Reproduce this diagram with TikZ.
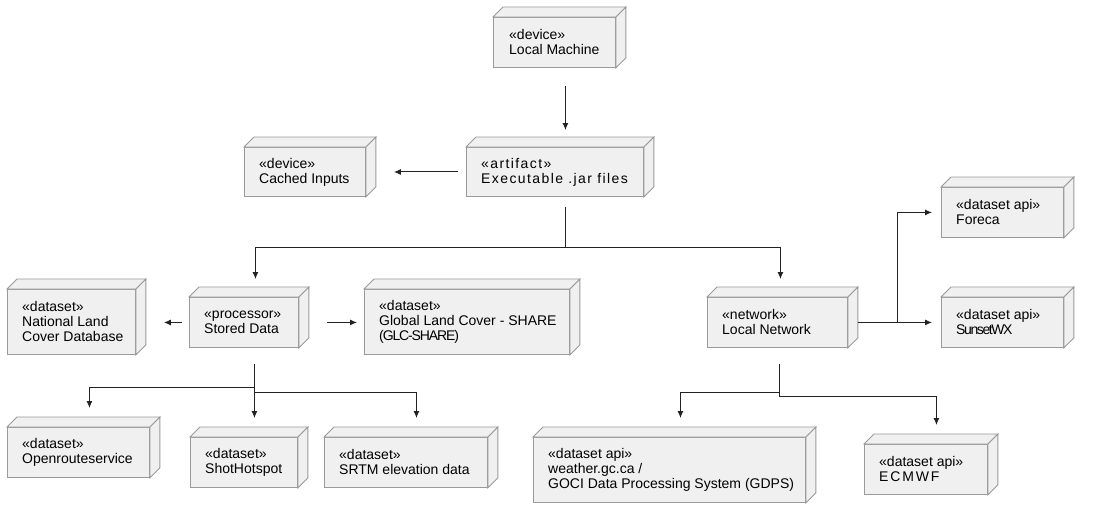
\documentclass[tikz,border=0pt]{standalone}
\usepackage{fontspec}
\setmainfont{Liberation Sans}
\usetikzlibrary{arrows.meta}
\definecolor{facefill}{HTML}{F0F0F0}
\definecolor{facedraw}{HTML}{9A9A9A}
\definecolor{linecol}{HTML}{222222}
\newcommand{\cubefaces}[1]{%
  \filldraw[face] (#1.north west) -- ++(10,-10) -- ([shift={(10,-10)}]#1.north east) -- (#1.north east) -- cycle;
  \filldraw[face] (#1.north east) -- ++(10,-10) -- ([shift={(10,-10)}]#1.south east) -- (#1.south east) -- cycle;}
\newcommand{\lsp}[2]{{\addfontfeatures{LetterSpace=#1}#2}}
\begin{document}
\begin{tikzpicture}[x=1pt,y=-1pt,
  face/.style={fill=facefill,draw=facedraw,line width=0.9pt,line join=miter},
  cube/.style={face,rectangle,anchor=north west,inner sep=0pt},
  txt/.style={anchor=west,align=left,inner sep=0pt,font=\fontsize{14}{15}\selectfont},
  line/.style={draw=linecol,line width=1pt},
  arr/.style={line,-{Latex[length=7pt,width=6pt]}}]
\fill[white] (0,0) rectangle (1093,520);
\useasboundingbox (0,0) rectangle (1093,520);
% boxes
\node[cube,minimum width=122pt,minimum height=50pt] (lm) at (493,17) {};
\node[cube,minimum width=177pt,minimum height=49pt] (ex) at (466,147) {};
\node[cube,minimum width=121pt,minimum height=49pt] (ci) at (244,147) {};
\node[cube,minimum width=122pt,minimum height=50pt] (fo) at (941,187) {};
\node[cube,minimum width=122pt,minimum height=50pt] (su) at (941,297) {};
\node[cube,minimum width=140pt,minimum height=50pt] (ln) at (707,297) {};
\node[cube,minimum width=128pt,minimum height=65pt] (nl) at (7,289) {};
\node[cube,minimum width=109pt,minimum height=50pt] (sd) at (189,297) {};
\node[cube,minimum width=205pt,minimum height=65pt] (gl) at (364,289) {};
\node[cube,minimum width=142pt,minimum height=50pt] (or) at (7,427) {};
\node[cube,minimum width=107pt,minimum height=50pt] (sh) at (190,437) {};
\node[cube,minimum width=163pt,minimum height=50pt] (sr) at (324,437) {};
\node[cube,minimum width=272pt,minimum height=65pt] (gd) at (533,437) {};
\node[cube,minimum width=123pt,minimum height=50pt] (ec) at (864,444) {};
\foreach \n in {lm,ex,ci,fo,su,ln,nl,sd,gl,or,sh,sr,gd,ec}{\cubefaces{\n}}
% texts
\node[txt] (lmt) at ([xshift=16pt]lm.west) {«device»\\Local Machine};
\node[txt] (ext) at ([xshift=15pt]ex.west) {\lsp{10}{«artifact»}\\\lsp{10}{Executable .jar files}};
\node[txt] (cit) at ([xshift=15pt]ci.west) {«device»\\Cached Inputs};
\node[txt] (fot) at ([xshift=15pt]fo.west) {«dataset api»\\Foreca};
\node[txt] (sut) at ([xshift=15pt]su.west) {«dataset api»\\\lsp{-10}{SunsetWX}};
\node[txt] (lnt) at ([xshift=15pt]ln.west) {«network»\\Local Network};
\node[txt] (nlt) at ([xshift=15pt]nl.west) {«dataset»\\National Land\\Cover Database};
\node[txt] (sdt) at ([xshift=15pt]sd.west) {«processor»\\Stored Data};
\node[txt] (glt) at ([xshift=15pt]gl.west) {«dataset»\\Global Land Cover - SHARE\\\lsp{-8}{(GLC-SHARE)}};
\node[txt] (ort) at ([xshift=15pt]or.west) {«dataset»\\Openrouteservice};
\node[txt] (sht) at ([xshift=15pt]sh.west) {«dataset»\\ShotHotspot};
\node[txt] (srt) at ([xshift=15pt]sr.west) {«dataset»\\SRTM elevation data};
\node[txt] (gdt) at ([xshift=15pt]gd.west) {«dataset api»\\weather.gc.ca /\\GOCI Data Processing System (GDPS)};
\node[txt] (ect) at ([xshift=15pt]ec.west) {«dataset api»\\\lsp{13}{ECMWF}};
% connectors
\draw[arr,shorten <=18pt,shorten >=17pt] ([xshift=11pt]lm.south) -- ([xshift=11pt]lm.south |- ex.north);
\draw[arr,shorten <=8pt,shorten >=28pt] (ex.west) -- (ex.west -| ci.east);
\coordinate (b1) at ([shift={(10.5,51)}]ex.south);
\draw[line] ([shift={(10.5,10)}]ex.south) -- (b1);
\draw[arr,shorten >=18pt] (b1) -| ([xshift=11.5pt]sd.north);
\draw[arr,shorten >=18pt] (b1) -| ([xshift=3pt]ln.north);
\draw[arr,shorten <=7pt,shorten >=28pt] (sd.west) -- (sd.west -| nl.east);
\draw[arr,shorten <=28pt,shorten >=7pt] (sd.east) -- (sd.east -| gl.west);
\draw[arr,shorten <=16pt,shorten >=19pt] ([xshift=10.5pt]sd.south) -- ([xshift=10.5pt]sd.south |- sh.north);
\draw[arr,shorten >=19pt] ([shift={(10.5,40)}]sd.south) -| ([xshift=11pt]or.north);
\draw[arr,shorten >=19pt] ([shift={(10.5,45)}]sd.south) -| ([xshift=10.5pt]sr.north);
\draw[arr,shorten <=10pt,shorten >=9pt] (ln.east) -- (ln.east -| su.west);
\draw[arr,shorten >=9pt] ([xshift=50pt]ln.east) |- (fo.west);
\draw[line] ([shift={(2,16)}]ln.south) -- ([shift={(2,49)}]ln.south);
\draw[arr,shorten >=19pt] ([shift={(2,45)}]ln.south) -| ([xshift=11pt]gd.north);
\draw[arr,shorten >=19pt] ([shift={(2,49)}]ln.south) -| ([xshift=10.5pt]ec.north);
\end{tikzpicture}
\end{document}
